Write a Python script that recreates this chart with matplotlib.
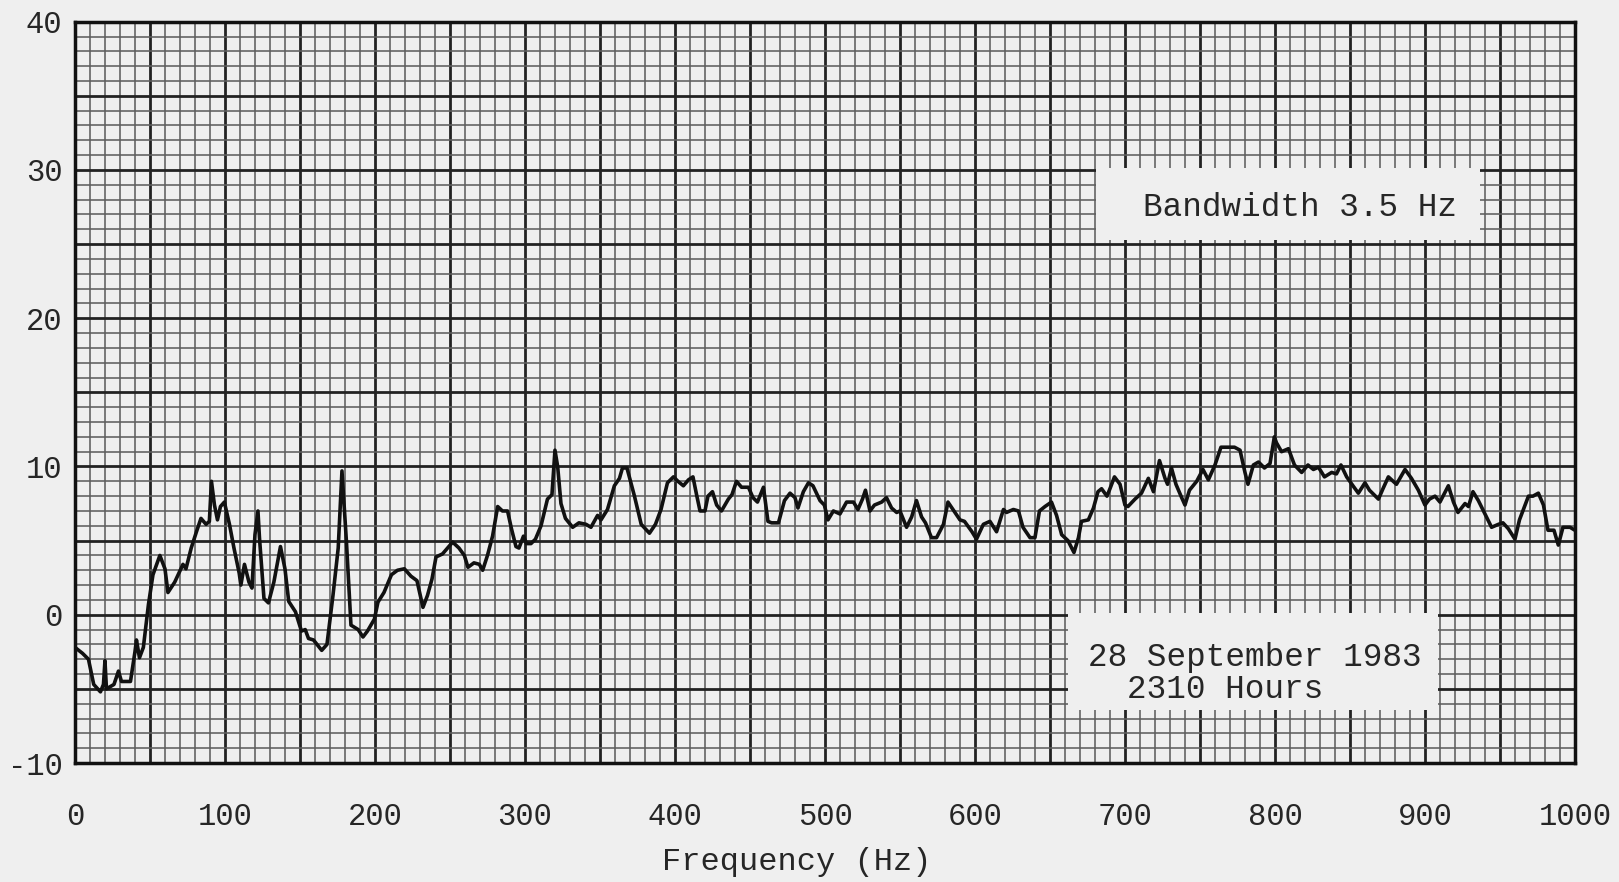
import numpy as np
import matplotlib
matplotlib.use("Agg")
import matplotlib.pyplot as plt
from matplotlib.patches import Rectangle

# spectrum trace
freq = [0, 5, 9, 12.5, 17, 19, 20, 21, 26, 29, 31, 37, 40, 41, 43, 45.6, 49, 52, 56.6, 60,
        62, 66.5, 72, 74, 77.5, 81, 84, 87.4, 89.6, 91, 93, 95, 97, 99.6, 103, 106, 109.5,
        110.6, 113, 116, 118, 120, 122, 123, 126, 129, 132.6, 137, 140, 142.5, 147, 151,
        153.5, 155.7, 159, 164.5, 168, 172, 175.5, 178, 181, 184, 188.8, 192, 195, 199.6,
        202, 206, 211, 215, 219.6, 224, 228, 232, 235, 238, 240.7, 245, 248.4, 251.8, 256,
        259.6, 262, 266, 269.6, 271.8, 275, 278.4, 281.8, 285, 288.4, 291, 294, 296, 299,
        301, 304, 307, 310.7, 315, 318, 320, 321.8, 324, 327, 331.8, 336, 340.7, 344, 348.4,
        350.7, 355, 359.6, 363, 365, 368, 373, 377.5, 383, 387, 390.7, 395, 399, 402, 405.6,
        409, 412, 414.4, 416.7, 420, 422, 425, 427.8, 431, 435.6, 438, 441, 444.4, 449, 452,
        455, 459, 462, 464.4, 469, 473, 476.7, 480, 482, 485.6, 489, 492, 496.7, 499.6, 502,
        505.6, 510, 514.4, 519, 522, 525, 527, 530, 533, 537.8, 541, 544.4, 547.8, 550,
        554.4, 557.8, 561, 564.4, 567, 571, 574.4, 579, 582, 586, 590, 593, 598, 601, 605.6,
        610, 614.4, 619, 621, 625.6, 629, 632, 636.7, 640, 643, 646.7, 651, 654.4, 657.8,
        662, 666, 669, 671, 675.6, 679, 682, 684.4, 688, 690, 693, 696.7, 700, 702, 706.7,
        711, 715.6, 719, 723, 726.7, 728.4, 731, 734, 737.8, 740, 743, 747.8, 752, 755.6,
        760, 764, 767.8, 773, 776.7, 780, 782, 785.6, 789, 793, 796.7, 799.6, 801, 804.4,
        809, 813, 817.8, 822, 825.6, 829, 833, 837.8, 841, 844, 847.8, 852, 855.6, 860, 863,
        869, 872, 875.6, 881, 886.7, 891, 895.6, 900, 903, 906.7, 910, 915.6, 919, 922,
        926.7, 929, 932, 935.6, 940, 944.4, 949, 952, 955.6, 960, 963, 969, 972, 975.6, 979,
        982, 986, 988.9, 992, 996.7, 1000]
level = [-2.2, -2.6, -3.0, -4.7, -5.2, -4.7, -3.1, -5.0, -4.7, -3.8, -4.5, -4.5, -2.5, -1.7,
         -2.9, -2.2, 0.7, 2.7, 4.0, 3.1, 1.5, 2.2, 3.4, 3.1, 4.5, 5.6, 6.5, 6.1, 6.3, 9.0, 7.4,
         6.4, 7.3, 7.6, 6.1, 4.5, 2.8, 2.0, 3.4, 2.2, 1.8, 5.4, 7.0, 5.2, 1.1, 0.8, 2.2, 4.6,
         3.1, 0.9, 0.2, -1.1, -1.0, -1.6, -1.7, -2.4, -2.0, 1.3, 4.5, 9.7, 4.9, -0.7, -1.0,
         -1.5, -1.1, -0.3, 0.85, 1.5, 2.7, 3.0, 3.1, 2.6, 2.3, 0.5, 1.3, 2.4, 3.9, 4.1, 4.5,
         4.9, 4.5, 4.0, 3.2, 3.5, 3.4, 3.0, 4.0, 5.3, 7.3, 7.0, 7.0, 5.8, 4.6, 4.5, 5.3, 4.8,
         4.8, 5.1, 6.0, 7.8, 8.1, 11.1, 10.0, 7.5, 6.5, 5.9, 6.2, 6.1, 5.9, 6.7, 6.4, 7.1,
         8.7, 9.2, 9.9, 9.9, 8.0, 6.1, 5.5, 6.1, 7.1, 8.9, 9.3, 9.0, 8.7, 9.1, 9.3, 8.1, 7.0,
         7.0, 8.0, 8.3, 7.4, 7.0, 7.8, 8.1, 9.0, 8.6, 8.6, 7.9, 7.6, 8.6, 6.3, 6.2, 6.2, 7.7,
         8.2, 7.9, 7.2, 8.3, 8.9, 8.7, 7.7, 7.4, 6.4, 7.0, 6.8, 7.6, 7.6, 7.1, 7.8, 8.4, 7.0,
         7.4, 7.6, 7.9, 7.2, 6.9, 7.0, 5.9, 6.6, 7.7, 6.6, 6.2, 5.2, 5.2, 6.1, 7.6, 7.0, 6.4,
         6.3, 5.6, 5.1, 6.1, 6.3, 5.6, 7.1, 6.9, 7.1, 7.0, 5.9, 5.2, 5.2, 7.0, 7.3, 7.6, 6.7,
         5.4, 5.0, 4.2, 5.2, 6.3, 6.4, 7.2, 8.3, 8.5, 8.0, 8.5, 9.3, 8.8, 7.4, 7.3, 7.8, 8.2,
         9.2, 8.3, 10.4, 9.2, 8.8, 9.9, 8.8, 7.9, 7.4, 8.4, 9.0, 9.8, 9.1, 10.1, 11.3, 11.3,
         11.3, 11.1, 9.6, 8.8, 10.1, 10.3, 9.9, 10.2, 12.0, 11.6, 11.0, 11.2, 10.1, 9.6, 10.1,
         9.8, 9.95, 9.3, 9.6, 9.5, 10.1, 9.3, 8.7, 8.2, 8.9, 8.4, 7.8, 8.5, 9.3, 8.8, 9.8, 9.2,
         8.4, 7.4, 7.8, 8.0, 7.6, 8.7, 7.6, 6.9, 7.5, 7.3, 8.3, 7.7, 6.8, 5.9, 6.1, 6.2, 5.8,
         5.1, 6.4, 8.0, 8.0, 8.2, 7.4, 5.7, 5.7, 4.7, 5.9, 5.9, 5.7]

x_ticks = [0, 100, 200, 300, 400, 500, 600, 700, 800, 900, 1000]
y_ticks = [-10, 0, 10, 20, 30, 40]

paper = "#efefef"
ink = "#262626"
font = ["Liberation Mono", "DejaVu Sans Mono"]

fig = plt.figure(figsize=(16.19, 8.82), dpi=100, facecolor=paper)
ax = fig.add_axes([0.0463, 0.1349, 0.9265, 0.8405])
ax.set_facecolor(paper)

ax.set_xlim(0, 1000)
ax.set_ylim(-10, 40)

# chart paper grid: heavy every 50 Hz / 5 units, light every 10 Hz / 1 unit
for f in np.arange(0, 1001, 10):
    heavy = f % 50 == 0
    ax.axvline(f, color="#222222" if heavy else "#5e5e5e",
               lw=2.0 if heavy else 1.15, zorder=1)
for v in np.arange(-10, 41, 1):
    heavy = v % 5 == 0
    ax.axhline(v, color="#222222" if heavy else "#5e5e5e",
               lw=2.0 if heavy else 1.15, zorder=1)

ax.plot(freq, level, color="#111111", lw=2.6, zorder=5, solid_joinstyle="round")

# blank label patches on the paper
ax.add_patch(Rectangle((0.681, 0.706), 0.256, 0.097, transform=ax.transAxes,
                       facecolor=paper, edgecolor="none", zorder=3))
ax.text(0.8167, 0.750, "Bandwidth 3.5 Hz", transform=ax.transAxes, ha="center",
        va="center", fontsize=23.5, family=font, color=ink, zorder=4)

ax.add_patch(Rectangle((0.662, 0.0715), 0.247, 0.131, transform=ax.transAxes,
                       facecolor=paper, edgecolor="none", zorder=3))
ax.text(0.7863, 0.1417, "28 September 1983", transform=ax.transAxes, ha="center",
        va="center", fontsize=23.5, family=font, color=ink, zorder=4)
ax.text(0.7667, 0.0985, "2310 Hours", transform=ax.transAxes, ha="center",
        va="center", fontsize=23.5, family=font, color=ink, zorder=4)

ax.set_xticks(x_ticks)
ax.set_yticks(y_ticks)
ax.set_xticklabels([str(t) for t in x_ticks], family=font, fontsize=22, color=ink)
ax.set_yticklabels([str(t) for t in y_ticks], family=font, fontsize=22, color=ink)
ax.tick_params(axis="x", length=0, pad=28)
ax.tick_params(axis="y", length=0, pad=9)

for s in ax.spines.values():
    s.set_linewidth(2.5)
    s.set_color("#111111")
    s.set_zorder(6)

ax.set_xlabel("Frequency (Hz)", family=font, fontsize=23, color=ink, va="center")
ax.xaxis.set_label_coords(0.481, -0.134)

fig.savefig("out.png", dpi=100, facecolor=paper)
